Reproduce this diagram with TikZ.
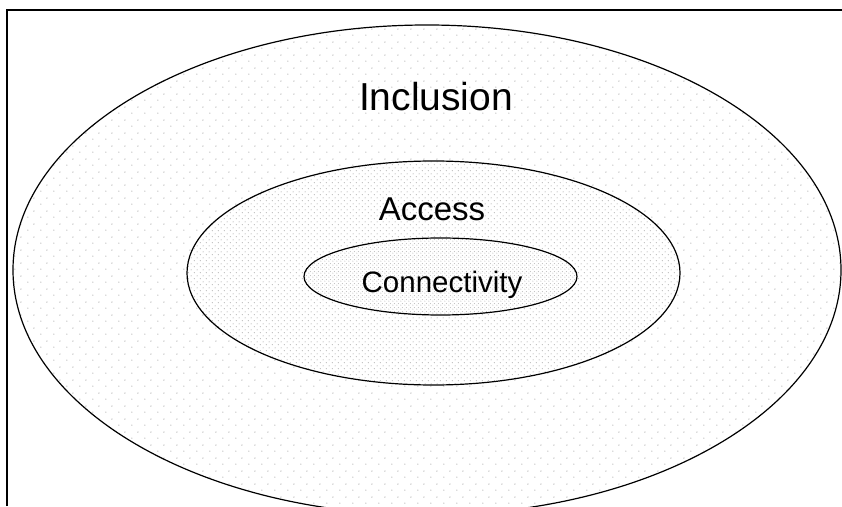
\documentclass[tikz,border=0pt]{standalone}
\usepackage{fontspec}
\setmainfont{Liberation Sans}
\usetikzlibrary{patterns}
\pgfdeclarepatternformonly{sparsedots}{\pgfpointorigin}{\pgfpoint{12.5pt}{12.5pt}}{\pgfpoint{12.5pt}{12.5pt}}{%
  \pgfpathcircle{\pgfpoint{3pt}{3pt}}{0.75pt}%
  \pgfpathcircle{\pgfpoint{9.25pt}{9.25pt}}{0.75pt}%
  \pgfusepath{fill}}
\pgfdeclarepatternformonly{middots}{\pgfpointorigin}{\pgfpoint{6.25pt}{6.25pt}}{\pgfpoint{6.25pt}{6.25pt}}{%
  \pgfpathcircle{\pgfpoint{1.5pt}{1.5pt}}{0.7pt}%
  \pgfpathcircle{\pgfpoint{4.625pt}{4.625pt}}{0.7pt}%
  \pgfusepath{fill}}
\pgfdeclarepatternformonly{densedots}{\pgfpointorigin}{\pgfpoint{4pt}{4pt}}{\pgfpoint{4pt}{4pt}}{%
  \pgfpathcircle{\pgfpoint{1pt}{1pt}}{0.65pt}%
  \pgfpathcircle{\pgfpoint{3pt}{3pt}}{0.65pt}%
  \pgfusepath{fill}}
\tikzset{
  ring/.style={draw=black, line width=1.2pt},
  lbl/.style={anchor=base, inner sep=0pt, text=black},
}
\begin{document}
\begin{tikzpicture}[x=1pt,y=1pt]
\useasboundingbox (0,0) rectangle (842,506);
\fill[white] (0,0) rectangle (842,506);
% frame
\draw[line width=1.6pt] (7,0) -- (7,496) -- (842,496);
% outer ellipse
\fill[pattern=sparsedots, pattern color=black!28] (427,236) ellipse [x radius=414, y radius=245];
\draw[ring] (427,236) ellipse [x radius=414, y radius=245];
% middle ellipse
\fill[white] (433.5,233) ellipse [x radius=246.5, y radius=112];
\fill[pattern=middots, pattern color=black!25] (433.5,233) ellipse [x radius=246.5, y radius=112];
\draw[ring] (433.5,233) ellipse [x radius=246.5, y radius=112];
% inner ellipse
\fill[white] (440.5,229.5) ellipse [x radius=136.5, y radius=38.5];
\fill[pattern=densedots, pattern color=black!25] (440.5,229.5) ellipse [x radius=136.5, y radius=38.5];
\draw[ring] (440.5,229.5) ellipse [x radius=136.5, y radius=38.5];
% labels
\node[lbl, font=\fontsize{39}{44}\selectfont] (inclusion) at (436,395) {Inclusion};
\node[lbl, font=\fontsize{33}{38}\selectfont] (access) at (432,285) {Access};
\node[lbl, font=\fontsize{29.5}{34}\selectfont] (connectivity) at (442,213) {Connectivity};
\end{tikzpicture}
\end{document}
